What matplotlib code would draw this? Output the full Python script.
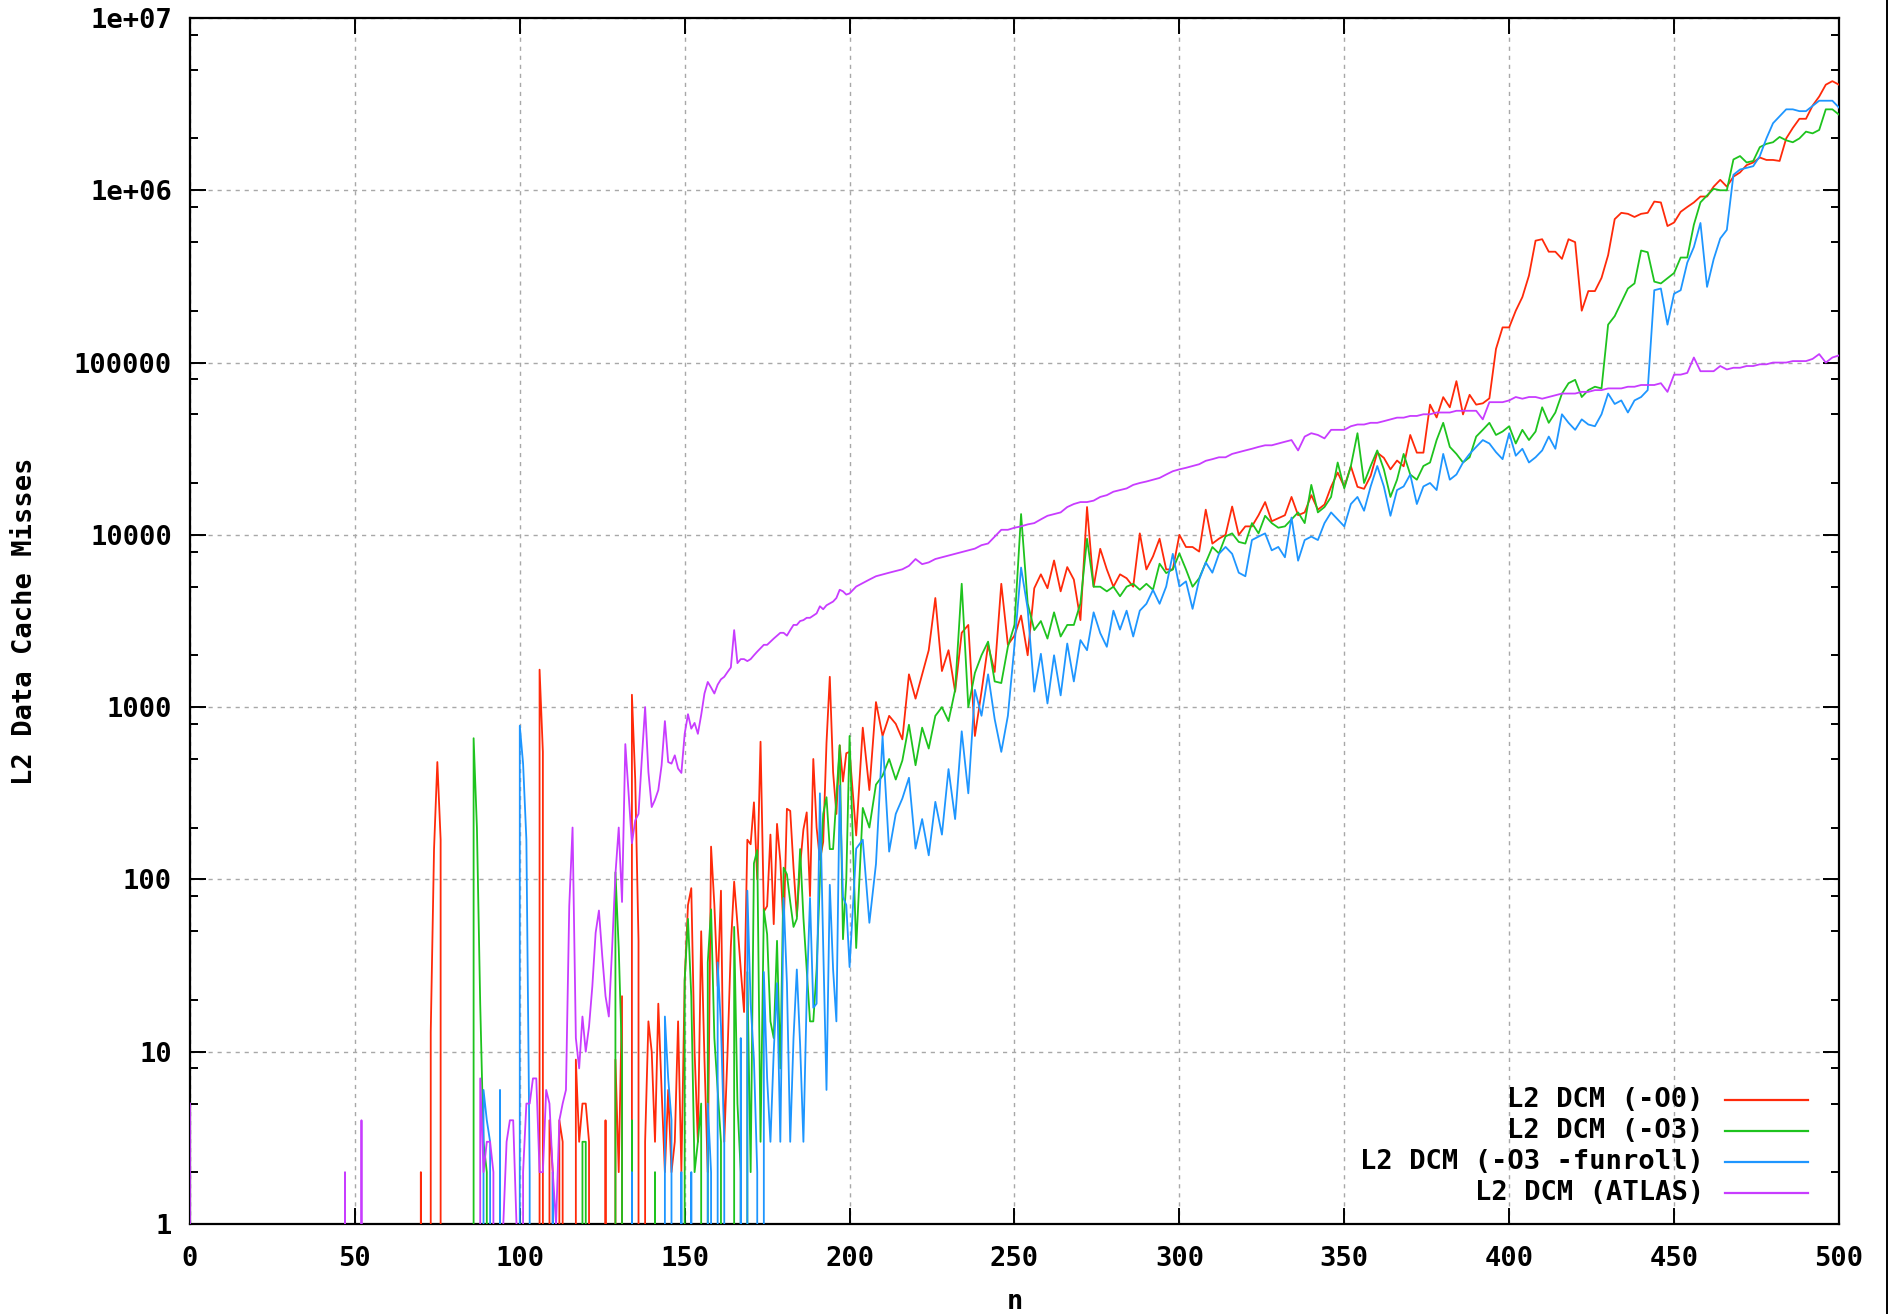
import numpy as np
import matplotlib
matplotlib.use("Agg")
import matplotlib.pyplot as plt
from matplotlib.ticker import FixedLocator, FixedFormatter, NullFormatter
from matplotlib.lines import Line2D

plt.rcParams.update({'font.family': 'DejaVu Sans Mono', 'font.weight': 'bold',
                     'font.size': 19.5})

# x positions: every n from 86 to 199, every second n from 200 on
n_dense = np.arange(86, 200)
n_coarse = np.arange(200, 501, 2)

# ---- L2 DCM (-O0) ----
o0_early_n = [0, 69, 70, 71, 72, 73, 74, 75, 76, 77, 85]
o0_early = [0, 0, 2, 0, 0, 13, 150, 480, 170, 0, 0]
o0_dense = [
    0, 0, 0, 0, 0, 0, 0, 0, 0, 0,
    0, 0, 0, 0, 0, 0, 0, 0, 0, 0,
    1650, 550, 0, 4, 2, 0, 4, 3, 0, 0,
    0, 9, 3, 5, 5, 3, 0, 0, 0, 0,
    4, 0, 0, 9, 2, 21, 0, 0, 1180, 380,
    44, 0, 3, 15, 10, 3, 19, 6, 2, 6,
    2, 3, 15, 2, 26, 71, 89, 10, 3, 50,
    9, 2, 155, 71, 24, 86, 3, 10, 41, 97,
    55, 30, 17, 170, 160, 280, 100, 630, 65, 70,
    182, 55, 210, 128, 50, 257, 250, 117, 61, 120,
    195, 245, 80, 500, 200, 130, 165, 620, 1500, 420,
    240, 600, 370, 540]
o0_coarse = [
    550, 180, 760, 330, 1070, 680, 890, 800, 650, 1550,
    1120, 1550, 2140, 4300, 1620, 2140, 1230, 2700, 3000, 680,
    1230, 2300, 1600, 5200, 2300, 2600, 3400, 2000, 4900, 5900,
    4900, 7100, 4700, 6500, 5500, 3200, 14500, 5000, 8300, 6300,
    5000, 5900, 5600, 5000, 10200, 6300, 7500, 9500, 6300, 6300,
    10000, 8500, 8500, 8000, 14000, 8900, 9500, 10000, 14600, 10000,
    11200, 11200, 13000, 15500, 12000, 12500, 13000, 16600, 13000, 13500,
    17000, 14000, 15000, 19000, 23000, 19000, 25000, 19000, 18500, 22000,
    30000, 28000, 24000, 27000, 25000, 38000, 30000, 30000, 57000, 48000,
    63000, 55000, 78000, 50000, 65000, 57000, 58000, 62000, 120000, 160000,
    160000, 200000, 240000, 320000, 510000, 520000, 440000, 440000, 400000, 520000,
    500000, 200000, 260000, 260000, 310000, 420000, 680000, 740000, 730000, 700000,
    730000, 740000, 860000, 850000, 620000, 650000, 750000, 800000, 850000, 920000,
    920000, 1050000, 1150000, 1050000, 1200000, 1270000, 1400000, 1450000, 1550000, 1500000,
    1500000, 1480000, 2000000, 2300000, 2600000, 2600000, 3100000, 3500000, 4100000, 4300000,
    4100000]

# ---- L2 DCM (-O3) ----
o3_early_n = [0, 85]
o3_early = [0, 0]
o3_dense = [
    660, 200, 19, 3, 2, 0, 0, 0, 0, 0,
    0, 0, 0, 0, 0, 0, 0, 0, 0, 0,
    0, 0, 0, 0, 0, 0, 0, 0, 0, 0,
    0, 0, 0, 3, 3, 0, 0, 0, 0, 0,
    0, 0, 0, 110, 40, 9, 0, 0, 4, 0,
    0, 0, 0, 0, 0, 2, 0, 0, 0, 0,
    0, 0, 0, 0, 26, 59, 21, 2, 3, 5,
    0, 33, 67, 12, 6, 3, 0, 0, 0, 53,
    5, 2, 0, 29, 2, 124, 148, 3, 67, 48,
    15, 12, 44, 8, 117, 107, 74, 53, 59, 150,
    60, 30, 15, 15, 30, 100, 240, 300, 150, 150,
    300, 600, 45, 100]
o3_coarse = [
    680, 40, 260, 200, 355, 400, 500, 380, 490, 790,
    460, 760, 575, 890, 1000, 830, 1260, 5200, 1000, 1580,
    2000, 2400, 1410, 1380, 2240, 3000, 13200, 4000, 2800, 3160,
    2500, 3550, 2570, 3000, 3000, 4000, 9500, 5000, 5000, 4700,
    5000, 4400, 5000, 5200, 4800, 5200, 4800, 6800, 6000, 6300,
    7800, 6300, 5000, 5600, 6900, 8500, 7800, 9800, 10200, 9100,
    8900, 11700, 10200, 12900, 11700, 11000, 11200, 12300, 13500, 11700,
    19500, 13500, 14500, 16600, 26300, 18600, 25100, 38900, 20000, 25100,
    30900, 24000, 16600, 20900, 29500, 22400, 20900, 25100, 26300, 35500,
    44700, 32400, 29500, 26300, 28200, 37200, 40700, 44700, 38000, 39800,
    42700, 33900, 40700, 35500, 39800, 55000, 44700, 51300, 66000, 75900,
    79400, 63100, 69200, 72400, 70800, 166000, 186000, 224000, 269000, 288000,
    447000, 437000, 295000, 288000, 309000, 331000, 407000, 407000, 631000, 851000,
    933000, 1020000, 1000000, 1000000, 1510000, 1580000, 1450000, 1480000, 1780000, 1860000,
    1900000, 2040000, 1950000, 1900000, 2000000, 2190000, 2140000, 2240000, 2950000, 2950000,
    2750000]

# ---- L2 DCM (-O3 -funroll) ----
unroll_early_n = [0, 85]
unroll_early = [0, 0]
unroll_dense = [
    0, 0, 0, 6, 4, 3, 0, 0, 6, 0,
    0, 0, 0, 0, 780, 470, 170, 2, 0, 0,
    0, 0, 0, 0, 2, 0, 0, 0, 0, 0,
    0, 0, 0, 0, 0, 0, 0, 0, 0, 0,
    0, 0, 0, 0, 0, 0, 0, 0, 2, 0,
    0, 0, 0, 0, 0, 0, 0, 0, 16, 7,
    4, 0, 0, 2, 0, 0, 2, 0, 0, 0,
    0, 5, 2, 0, 33, 14, 3, 0, 0, 0,
    0, 12, 0, 86, 19, 9, 2, 0, 29, 7,
    3, 10, 25, 3, 78, 25, 3, 12, 30, 11,
    3, 21, 78, 18, 19, 316, 41, 6, 93, 30,
    15, 350, 79, 71]
unroll_coarse = [
    31, 151, 170, 56, 123, 676, 145, 240, 295, 389,
    151, 224, 138, 282, 182, 437, 224, 724, 316, 1260,
    891, 1550, 851, 550, 891, 2290, 6460, 3720, 1230, 2040,
    1050, 2000, 1170, 2340, 1410, 2450, 2140, 3550, 2690, 2240,
    3630, 2820, 3630, 2570, 3630, 3980, 4790, 3980, 5010, 7760,
    5010, 5370, 3720, 5500, 6920, 6030, 7760, 8510, 7760, 6030,
    5750, 9330, 9770, 10200, 8130, 8510, 7410, 12600, 7080, 9330,
    9770, 9330, 11700, 13500, 12300, 11200, 15100, 16600, 13800, 19100,
    25100, 19100, 12900, 18200, 19100, 22400, 15100, 19100, 20000, 18200,
    29500, 20900, 22400, 26300, 29500, 32400, 35500, 33900, 30200, 27500,
    38900, 28800, 31600, 26300, 28200, 30900, 37200, 31600, 50100, 44700,
    40700, 46800, 43700, 42700, 50100, 66100, 57500, 60300, 51300, 60300,
    63100, 69200, 263000, 269000, 166000, 251000, 263000, 380000, 468000, 646000,
    275000, 398000, 525000, 589000, 1230000, 1320000, 1350000, 1380000, 1580000, 2000000,
    2450000, 2690000, 2950000, 2950000, 2880000, 2880000, 3090000, 3310000, 3310000, 3310000,
    3020000]

# ---- L2 DCM (ATLAS) ----
atlas_early_n = [0, 1, 46, 47, 48, 51, 52, 53, 85]
atlas_early = [5, 0, 0, 2, 0, 0, 4, 0, 0]
atlas_dense = [
    0, 0, 7, 2, 3, 3, 2, 0, 0, 1,
    3, 4, 4, 1, 0, 2, 5, 5, 7, 7,
    2, 2, 6, 5, 2, 1, 4, 5, 6, 70,
    200, 12, 8, 16, 10, 14, 24, 49, 66, 36,
    21, 16, 40, 107, 200, 74, 610, 316, 162, 220,
    240, 500, 1000, 420, 263, 290, 330, 460, 830, 480,
    470, 525, 440, 415, 700, 910, 750, 810, 700, 900,
    1200, 1400, 1300, 1200, 1350, 1450, 1500, 1600, 1700, 2800,
    1800, 1900, 1900, 1850, 1900, 2000, 2100, 2200, 2300, 2300,
    2400, 2500, 2600, 2700, 2700, 2600, 2800, 3000, 3000, 3160,
    3200, 3300, 3300, 3400, 3500, 3850, 3700, 3900, 4000, 4100,
    4300, 4800, 4700, 4500]
atlas_coarse = [
    4570, 5010, 5250, 5500, 5750, 5890, 6030, 6170, 6310, 6610,
    7240, 6760, 6920, 7240, 7410, 7590, 7760, 7940, 8130, 8320,
    8710, 8910, 9770, 10700, 10700, 11000, 11200, 11500, 11700, 12300,
    12900, 13200, 13500, 14500, 15100, 15500, 15500, 15800, 16600, 17000,
    17800, 18200, 18600, 19500, 20000, 20400, 20900, 21400, 22400, 23400,
    24000, 24500, 25100, 25700, 26900, 27500, 28200, 28200, 29500, 30200,
    30900, 31600, 32400, 33100, 33100, 33900, 34700, 35500, 30900, 37200,
    38900, 38000, 36300, 40700, 40700, 40700, 42700, 43700, 43700, 44700,
    44700, 45700, 46800, 47900, 47900, 49000, 49000, 50100, 50100, 51300,
    51300, 51300, 52500, 52500, 52500, 52500, 46800, 58900, 58900, 58900,
    60300, 63100, 61700, 63100, 63100, 61700, 63100, 64600, 66100, 66100,
    66100, 67600, 67600, 69200, 69200, 70800, 70800, 70800, 72400, 72400,
    74100, 74100, 74100, 75900, 67600, 85100, 85100, 87100, 107000, 89100,
    89100, 89100, 95500, 91200, 93300, 93300, 95500, 95500, 97700, 97700,
    100000, 100000, 100000, 102000, 102000, 102000, 105000, 112000, 100000, 107000,
    110000]

series_labels = ['L2 DCM (-O0)', 'L2 DCM (-O3)', 'L2 DCM (-O3 -funroll)', 'L2 DCM (ATLAS)']
series_colors = ['#ff2a0a', '#1ec31e', '#1e96ff', '#c83cff']

y_ticks = [1, 10, 100, 1000, 10000, 100000, 1e6, 1e7]
y_tick_labels = ['1', '10', '100', '1000', '10000', '100000', '1e+06', '1e+07']
x_ticks = list(range(0, 501, 50))

all_series = [
    (o0_early_n, o0_early, o0_dense, o0_coarse),
    (o3_early_n, o3_early, o3_dense, o3_coarse),
    (unroll_early_n, unroll_early, unroll_dense, unroll_coarse),
    (atlas_early_n, atlas_early, atlas_dense, atlas_coarse),
]

fig = plt.figure(figsize=(18.98, 13.14), dpi=100)
ax = fig.add_axes([0.1001, 0.0685, 0.8688, 0.9178])
ax.set_yscale('log', nonpositive='clip')

for (en, ev, dv, cv), lab, col in zip(all_series, series_labels, series_colors):
    assert len(dv) == len(n_dense), (lab, len(dv))
    assert len(cv) == len(n_coarse), (lab, len(cv))
    xs = np.concatenate([en, n_dense, n_coarse])
    ys = np.concatenate([ev, dv, cv]).astype(float)
    ax.plot(xs, ys, color=col, lw=1.3, label=lab, zorder=3)

ax.set_xlim(0, 500)
ax.set_ylim(1, 1e7)

ax.xaxis.set_major_locator(FixedLocator(x_ticks))
ax.xaxis.set_minor_locator(FixedLocator([]))
ax.yaxis.set_major_locator(FixedLocator(y_ticks))
ax.yaxis.set_major_formatter(FixedFormatter(y_tick_labels))
minor = [m * 10.0 ** k for k in range(0, 7) for m in (2, 5, 8)]
ax.yaxis.set_minor_locator(FixedLocator(minor))
ax.yaxis.set_minor_formatter(NullFormatter())

ax.tick_params(which='major', direction='in', length=11.5, width=1.4,
               top=True, right=True, labelsize=19.5)
ax.tick_params(which='minor', direction='in', length=5.5, width=1.4,
               top=True, right=True)
ax.tick_params(axis='y', pad=13)
ax.tick_params(axis='x', pad=16)

for s in ax.spines.values():
    s.set_linewidth(1.6)

ax.grid(True, which='major', color='#a8a8a8', linestyle=(0, (3, 3.5)), linewidth=1.0)
ax.set_axisbelow(True)

ax.set_xlabel('n', fontsize=19.5, fontweight='bold')
ax.xaxis.set_label_coords(0.5, -0.0647)
ax.xaxis.label.set_verticalalignment('center')
ax.set_ylabel('L2 Data Cache Misses', fontsize=19.5, fontweight='bold')
ax.yaxis.set_label_coords(-0.100, 0.5)
ax.yaxis.label.set_verticalalignment('center')

# gnuplot-style key: right-aligned text followed by a line sample
row_y = [0.1028, 0.0771, 0.0514, 0.0257]
for lab, col, yy in zip(series_labels, series_colors, row_y):
    ax.text(0.918, yy, lab, transform=ax.transAxes, ha='right', va='center',
            fontsize=19.5, fontweight='bold', zorder=5)
    ax.add_line(Line2D([0.931, 0.981], [yy, yy], transform=ax.transAxes,
                       color=col, lw=1.6, zorder=5))

# right frame edge of the original image
fig.add_artist(Line2D([0.9942, 0.9942], [0, 1], transform=fig.transFigure,
                      color='black', lw=1.4))

fig.savefig('out.png', dpi=100)
